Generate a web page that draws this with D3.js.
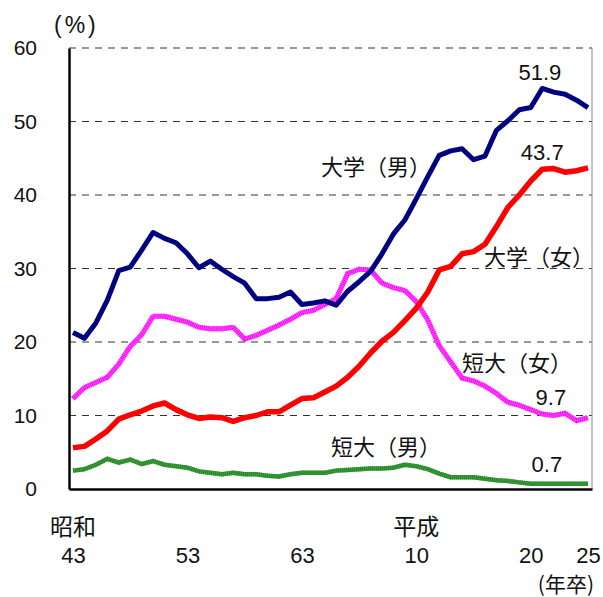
<html>
<head>
<meta charset="utf-8">
<script src="https://d3js.org/d3.v7.min.js"></script>
<style>
  body { margin: 0; background: #fff; }
  .num { font-family: "Liberation Sans", Arial, sans-serif; }
  .jp { font-family: "Noto Sans CJK JP", sans-serif; }
</style>
</head>
<body>
<svg id="chart" width="603" height="597"></svg>
<script>
  // 昭和43年卒 (1968) ... 平成25年卒 (2013)
  var years = [1968,1969,1970,1971,1972,1973,1974,1975,1976,1977,
               1978,1979,1980,1981,1982,1983,1984,1985,1986,1987,
               1988,1989,1990,1991,1992,1993,1994,1995,1996,1997,
               1998,1999,2000,2001,2002,2003,2004,2005,2006,2007,
               2008,2009,2010,2011,2012,2013];

  var univMale = [21.3,20.5,22.6,25.7,29.7,30.2,32.5,34.9,34.1,33.5,
                  32.0,30.1,31.0,29.9,28.9,28.0,25.9,25.9,26.1,26.8,
                  25.1,25.3,25.6,25.0,26.9,28.2,29.6,32.0,34.7,36.6,
                  39.5,42.5,45.4,46.0,46.3,44.8,45.3,48.8,50.1,51.6,
                  51.9,54.5,54.0,53.7,52.9,51.9];

  var univFemale = [5.6,5.8,6.8,7.9,9.5,10.1,10.6,11.3,11.7,10.8,
                    10.1,9.6,9.8,9.7,9.2,9.7,10.0,10.5,10.5,11.4,
                    12.3,12.4,13.2,14.0,15.2,16.7,18.5,20.1,21.3,22.9,
                    24.6,26.8,29.8,30.3,32.0,32.3,33.3,35.7,38.3,40.0,
                    41.9,43.5,43.6,43.1,43.3,43.7];

  var jcFemale = [12.3,13.8,14.5,15.2,17.0,19.4,21.0,23.5,23.5,23.1,
                  22.7,22.0,21.8,21.8,22.0,20.4,20.9,21.6,22.3,23.1,
                  24.0,24.3,25.1,25.9,29.3,29.9,29.8,28.0,27.4,27.0,
                  25.5,23.0,19.5,17.3,15.1,14.7,14.0,13.0,11.8,11.4,
                  10.8,10.2,10.0,10.3,9.3,9.7];

  var jcMale = [2.5,2.7,3.3,4.1,3.6,4.0,3.4,3.8,3.3,3.1,
                2.9,2.4,2.2,2.0,2.2,2.0,2.0,1.8,1.7,2.0,
                2.2,2.2,2.2,2.5,2.6,2.7,2.8,2.8,2.9,3.3,
                3.1,2.7,2.1,1.6,1.6,1.6,1.4,1.2,1.1,0.9,
                0.7,0.7,0.7,0.7,0.7,0.7];

  var yTicks = [0,10,20,30,40,50,60];
  var xTickYears = [1968,1978,1988,1998,2008,2013];
  var xTickLabels = ["43","53","63","10","20","25"];
  var eraYears = [1968,1998];
  var eraLabels = ["昭和","平成"];

  var margin = {top: 48, right: 11, bottom: 108, left: 69},
      width = 603 - margin.left - margin.right,
      height = 597 - margin.top - margin.bottom;

  var svg = d3.select("#chart")
    .append("g")
      .attr("transform", "translate(" + margin.left + "," + margin.top + ")");

  var x = d3.scaleLinear()
    .domain([1967.65, 2013.35])
    .range([0, width]);

  var y = d3.scaleLinear()
    .domain([0, 60])
    .range([height, 0]);

  // dashed grid
  svg.selectAll(".grid")
    .data(yTicks.filter(function(d) { return d > 0; }))
    .enter().append("line")
      .attr("x1", 0).attr("x2", width)
      .attr("y1", function(d) { return y(d); })
      .attr("y2", function(d) { return y(d); })
      .attr("stroke", "#333")
      .attr("stroke-width", 1)
      .attr("stroke-dasharray", "7,6");

  // right frame
  svg.append("line")
    .attr("x1", width).attr("x2", width)
    .attr("y1", 0).attr("y2", height)
    .attr("stroke", "#888").attr("stroke-width", 1);

  // y axis
  var yAxis = svg.append("g")
    .call(d3.axisLeft(y).tickValues(yTicks).tickSize(0).tickPadding(32));
  yAxis.select(".domain").attr("stroke", "#000").attr("stroke-width", 2.5);
  yAxis.selectAll("text")
    .attr("class", "num")
    .attr("font-size", 21)
    .attr("fill", "#111");

  // x axis
  var xAxis = svg.append("g")
    .attr("transform", "translate(0," + height + ")")
    .call(d3.axisBottom(x).tickValues(xTickYears).tickSize(0).tickPadding(58)
      .tickFormat(function(d, i) { return xTickLabels[i]; }));
  xAxis.select(".domain").attr("stroke", "#000").attr("stroke-width", 2.5);
  xAxis.selectAll("text")
    .attr("class", "num")
    .attr("font-size", 22)
    .attr("fill", "#111");

  svg.selectAll(".era")
    .data(eraYears)
    .enter().append("text")
      .attr("class", "jp")
      .attr("x", function(d) { return x(d); })
      .attr("y", height + 38)
      .attr("dy", "0.36em")
      .attr("text-anchor", "middle")
      .attr("font-size", 23)
      .attr("fill", "#111")
      .text(function(d, i) { return eraLabels[i]; });

  svg.append("text")
    .attr("class", "jp")
    .attr("x", 594 - margin.left).attr("y", height + 95)
    .attr("dy", "0.36em")
    .attr("text-anchor", "end")
    .attr("font-size", 21)
    .attr("fill", "#111")
    .text("(年卒)");

  svg.append("text")
    .attr("class", "num")
    .attr("x", 54 - margin.left).attr("y", -23)
    .attr("dy", "0.36em")
    .attr("font-size", 23)
    .attr("letter-spacing", 3)
    .attr("fill", "#111")
    .text("(%)");

  var line = d3.line()
    .x(function(d, i) { return x(years[i]); })
    .y(function(d) { return y(d); });

  function drawSeries(values, color, w, stripe) {
    svg.append("path")
      .datum(values)
      .attr("fill", "none")
      .attr("stroke", color)
      .attr("stroke-width", w)
      .attr("stroke-linejoin", "round")
      .attr("d", line);
    if (stripe) {
      svg.append("path")
        .datum(values)
        .attr("fill", "none")
        .attr("stroke", stripe)
        .attr("stroke-width", w)
        .attr("stroke-dasharray", "1,1")
        .attr("d", line);
    }
  }

  drawSeries(jcMale, "#3aa03a", 4.5, "#2a842a");
  drawSeries(jcFemale, "#ff55ff", 5, "#ff00ff");
  drawSeries(univFemale, "#ff0000", 5.5);
  drawSeries(univMale, "#000080", 5);

  // series labels (jp: anchored at left, numbers: centred)
  var labels = [
    {t: "大学（男）", yr: 1989.67, v: 43.8, cls: "jp", anchor: "start"},
    {t: "51.9", yr: 2008.8, v: 56.7, cls: "num", anchor: "middle"},
    {t: "43.7", yr: 2009.0, v: 45.8, cls: "num", anchor: "middle"},
    {t: "大学（女）", yr: 2003.91, v: 31.5, cls: "jp", anchor: "start"},
    {t: "短大（女）", yr: 2001.99, v: 17.2, cls: "jp", anchor: "start"},
    {t: "9.7", yr: 2009.76, v: 12.5, cls: "num", anchor: "middle"},
    {t: "短大（男）", yr: 1990.54, v: 5.65, cls: "jp", anchor: "start"},
    {t: "0.7", yr: 2009.41, v: 3.35, cls: "num", anchor: "middle"}
  ];

  svg.selectAll(".lbl")
    .data(labels)
    .enter().append("text")
      .attr("class", function(d) { return d.cls; })
      .attr("x", function(d) { return x(d.yr); })
      .attr("y", function(d) { return y(d.v); })
      .attr("dy", "0.36em")
      .attr("text-anchor", function(d) { return d.anchor; })
      .attr("font-size", 22)
      .attr("fill", "#111")
      .text(function(d) { return d.t; });
</script>
</body>
</html>
